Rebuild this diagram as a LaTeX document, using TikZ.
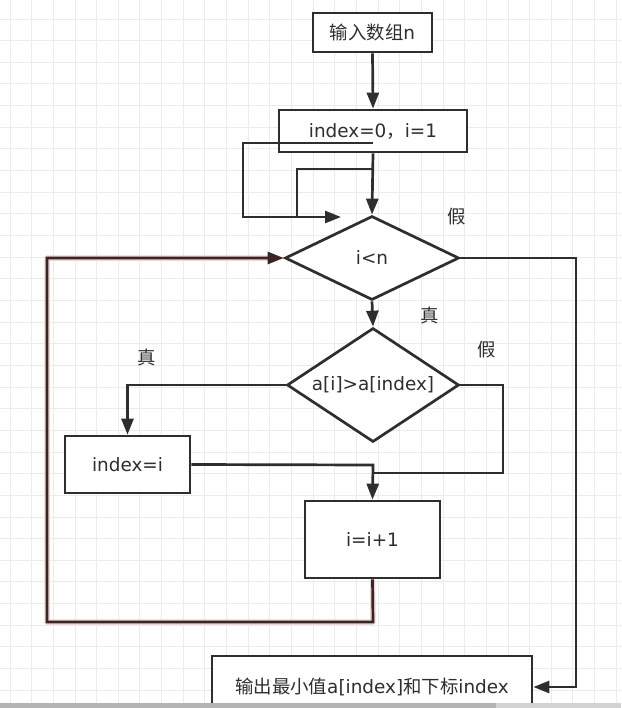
\documentclass[tikz,border=0pt]{standalone}
\usepackage{fontspec}
\setmainfont{DejaVu Sans}
\newfontfamily\cjk{Noto Sans CJK SC}
\usetikzlibrary{shapes.geometric,arrows.meta}
\definecolor{ln}{HTML}{2E2E2E}
\definecolor{gridc}{HTML}{EBEBEB}
\definecolor{loopc}{RGB}{58,36,36}
\definecolor{halo}{RGB}{236,214,214}
\definecolor{bar1}{HTML}{B4B4B4}
\definecolor{bar2}{HTML}{D2D2D2}
\tikzset{
  base/.style={draw=ln, line width=2.7pt, fill=white, inner sep=0pt, text=ln,
    font=\fontsize{18.4}{21}\selectfont},
  box/.style={base, rectangle},
  dia/.style={base, diamond},
  conn/.style={draw=ln, line width=2.7pt},
  arr/.style={conn, -{Triangle[length=16pt,width=12pt]}},
  lab/.style={text=ln, font=\cjk\fontsize{18.4}{21}\selectfont, inner sep=0pt},
}
\begin{document}
\begin{tikzpicture}[x=1pt,y=-1pt]
\useasboundingbox (0,0) rectangle (621,708);
% grid
\foreach \i in {0,...,28} {
  \draw[gridc, line width=0.9pt] ({10+21.65*\i},0) -- ({10+21.65*\i},708);
}
\foreach \j in {0,...,32} {
  \draw[gridc, line width=0.9pt] (0,{19+21.65*\j}) -- (621,{19+21.65*\j});
}
% nodes
\node[box, minimum width=119pt, minimum height=39pt] (b1) at (372.5,32.5) {{\cjk 输入数组}n};
\node[box, minimum width=188pt, minimum height=42pt] (b2) at (373,131) {index=0{\cjk ，}i=1};
\node[dia, aspect=2.07, minimum width=174pt, minimum height=84pt] (d1) at (372,258) {i<n};
\node[dia, aspect=1.51, minimum width=172pt, minimum height=114pt] (d2) at (373,385) {a[i]>a[index]};
\node[box, minimum width=125pt, minimum height=57pt] (b3) at (127.5,464.5) {index=i};
\node[box, minimum width=135pt, minimum height=77pt] (b5) at (372.5,539.5) {i=i+1};
\node[box, minimum width=320pt, minimum height=62pt] (b4) at (372,687) {{\cjk 输出最小值}a[index]{\cjk 和下标}index};
% labels
\node[lab] (l1) at (457,217) {假};
\node[lab] (l2) at (430,315) {真};
\node[lab] (l3) at (147,357) {真};
\node[lab] (l4) at (487,350) {假};
% coordinates
\coordinate (o1) at (373,143);
\coordinate (o2) at (243,143);
\coordinate (o3) at (243,217);
\coordinate (o4) at (341,217);
\coordinate (i1) at (373,169);
\coordinate (i2) at (297,169);
\coordinate (i3) at (297,217);
\coordinate (r1) at (576,258);
\coordinate (r2) at (576,687);
\coordinate (f1) at (503,385);
\coordinate (f2) at (503,473);
\coordinate (f3) at (373,473);
\coordinate (t1) at (373,465);
\coordinate (p1) at (373,622);
\coordinate (p2) at (47,622);
\coordinate (p3) at (47,258);
% connectors
\draw[arr] (b1.south) -- (b2.north);
\draw[arr] (b2.south) -- (d1.north);
\draw[arr] (o1) -- (o2) -- (o3) -- (o4);
\draw[conn] (i1) -- (i2) -- (i3);
\draw[arr] (d1.south) -- (d2.north);
\draw[arr] (d1.east) -- (r1) -- (r2) -- (b4.east);
\draw[arr] (d2.west) -| (b3.north);
\draw[conn] (d2.east) -- (f1) -- (f2) -- (f3);
\draw[arr] (b3.east) -- (t1) -- (b5.north);
\draw[halo, line width=5.5pt, line join=round] (b5.south) -- (p1) -- (p2) -- (p3) -- ([xshift=-15pt]d1.west);
\draw[arr, draw=loopc] (b5.south) -- (p1) -- (p2) -- (p3) -- (d1.west);
% bottom bar
\fill[bar1] (0,703) rectangle (496,708);
\fill[bar2] (496,703) rectangle (621,708);
\end{tikzpicture}
\end{document}
